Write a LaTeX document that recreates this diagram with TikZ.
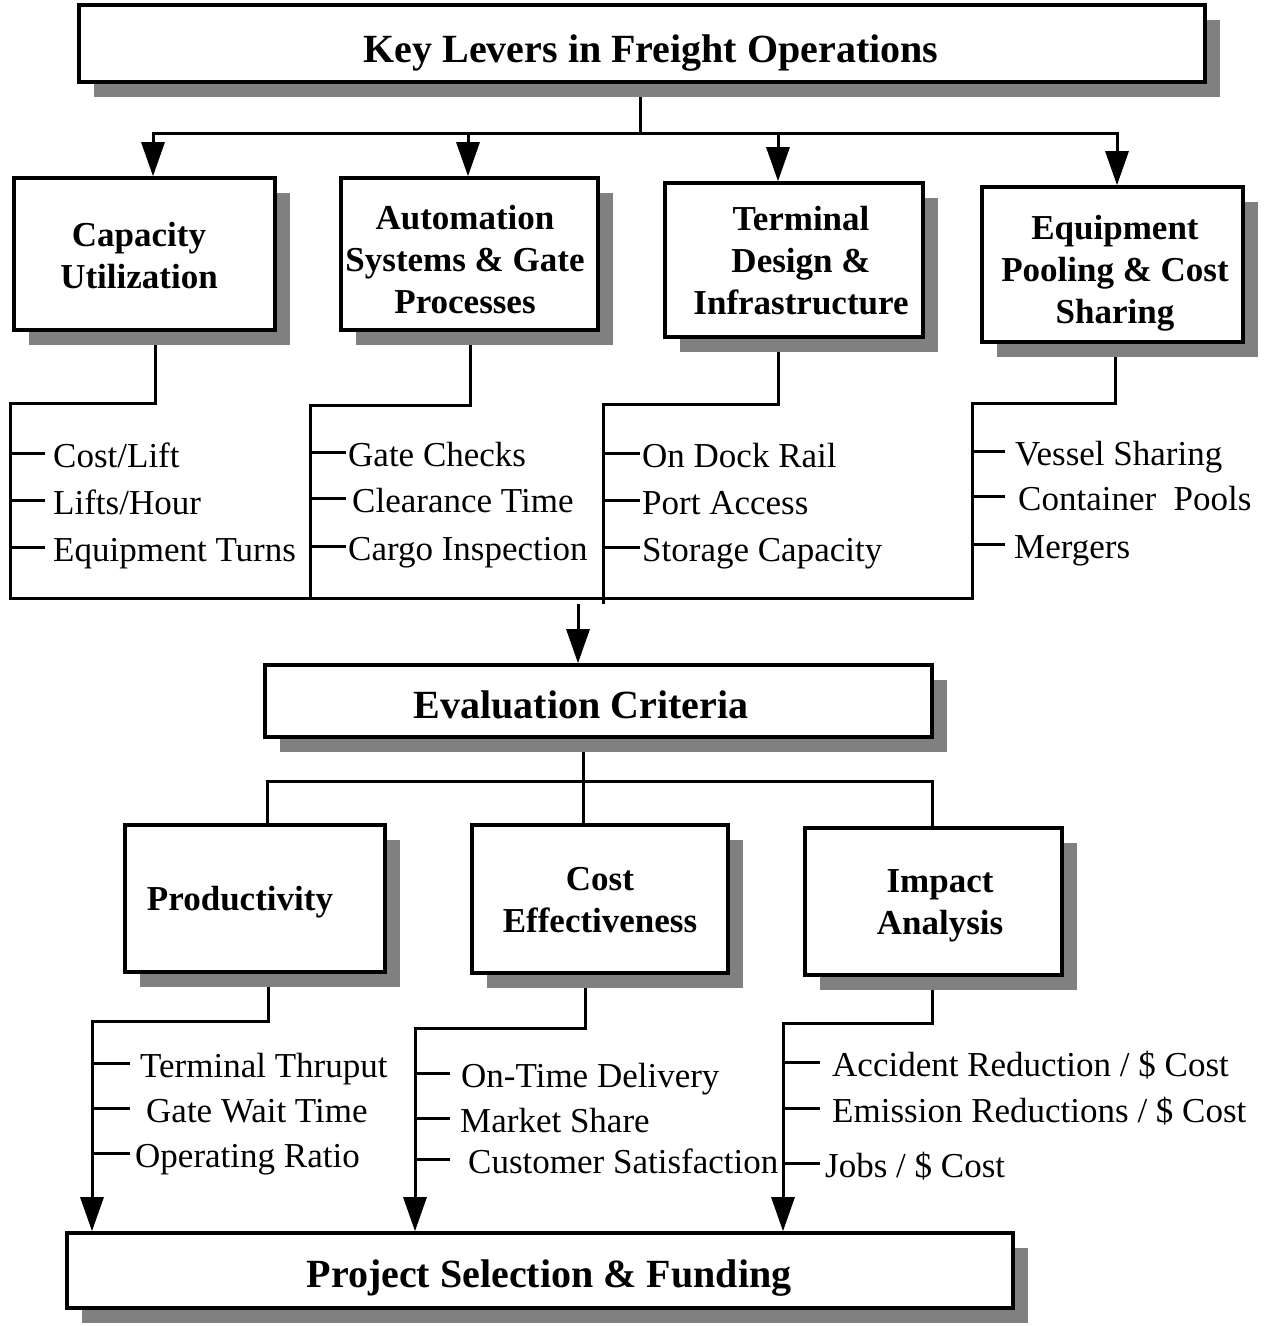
\documentclass[tikz,border=0pt]{standalone}
\usepackage{fontspec}
\setmainfont{Liberation Serif}
\usetikzlibrary{arrows.meta,shadows,backgrounds}
\begin{document}
\begin{tikzpicture}[x=1pt,y=-1pt,
  box/.style={draw, line width=3.6pt, fill=white, inner sep=0pt,
     general shadow={fill=black!50, shadow xshift=15pt, shadow yshift=-15pt}},
  head/.style={align=center, font=\fontsize{35}{42}\selectfont\bfseries, inner sep=0pt},
  titletext/.style={anchor=base, inner sep=0pt, font=\fontsize{40}{48}\selectfont\bfseries},
  item/.style={anchor=base west, inner sep=0pt, text height=28pt, text depth=0pt,
     font=\fontsize{35}{42}\selectfont},
  conn/.style={line width=3pt},
  arr/.style={conn, -{Triangle[length=34pt,width=23pt]}},
  tickline/.style={line width=3pt}]
\useasboundingbox (0,0) rectangle (1265,1326);

% ---------- boxes ----------
\node[box, minimum width=1126pt, minimum height=77pt] (top) at (642,43.5) {};
\node[titletext] (topT) at (651,62) {Key Levers in Freight Operations};

\node[box, minimum width=261pt, minimum height=152pt] (cap) at (144.5,254) {};
\node[head] (capT) at (139,255.5) {Capacity\\Utilization};
\node[box, minimum width=257pt, minimum height=152pt] (auto) at (469.5,254) {};
\node[head] (autoT) at (465,259.5) {Automation\\Systems \& Gate\\Processes};
\node[box, minimum width=258pt, minimum height=154pt] (term) at (794,260) {};
\node[head] (termT) at (801,260.5) {Terminal\\Design \&\\Infrastructure};
\node[box, minimum width=261pt, minimum height=155pt] (equip) at (1112.5,264.5) {};
\node[head] (equipT) at (1115,273) {Equipment\\Pooling \& Cost\\Sharing};

\node[box, minimum width=667pt, minimum height=72pt] (eval) at (598.5,701) {};
\node[titletext] (evalT) at (581,718) {Evaluation Criteria};

\node[box, minimum width=260pt, minimum height=147pt] (prod) at (255,898.5) {};
\node[head, anchor=base] (prodT) at (240,910) {Productivity};
\node[box, minimum width=256pt, minimum height=148pt] (cost) at (600,899) {};
\node[head] (costT) at (600,900) {Cost\\Effectiveness};
\node[box, minimum width=257pt, minimum height=147pt] (imp) at (933.5,901.5) {};
\node[head] (impT) at (940,905.5) {Impact\\Analysis};

\node[box, minimum width=946pt, minimum height=75pt] (proj) at (540,1270.5) {};
\node[titletext] (projT) at (549,1287) {Project Selection \& Funding};

% ---------- item texts ----------
\node[item] (i11) at (53,467) {Cost/Lift};
\node[item] (i12) at (53,514) {Lifts/Hour};
\node[item] (i13) at (53,561) {Equipment Turns};
\node[item] (i21) at (348,466) {Gate Checks};
\node[item] (i22) at (352,512) {Clearance Time};
\node[item] (i23) at (348,560) {Cargo Inspection};
\node[item] (i31) at (642,467) {On Dock Rail};
\node[item] (i32) at (642,514) {Port Access};
\node[item] (i33) at (642,561) {Storage Capacity};
\node[item] (i41) at (1015,465) {Vessel Sharing};
\node[item] (i42) at (1018,510) {Container\ \ Pools};
\node[item] (i43) at (1014,558) {Mergers};

\node[item] (j11) at (140,1077) {Terminal Thruput};
\node[item] (j12) at (146,1122) {Gate\ Wait\ Time};
\node[item] (j13) at (135,1167) {Operating Ratio};
\node[item] (j21) at (461,1087) {On-Time Delivery};
\node[item] (j22) at (460,1132) {Market Share};
\node[item] (j23) at (468,1173) {Customer\ Satisfaction};
\node[item] (j31) at (832,1076) {Accident Reduction / \$ Cost};
\node[item] (j32) at (832,1122) {Emission Reductions / \$ Cost};
\node[item] (j33) at (825,1177) {Jobs / \$ Cost};

% ---------- connectors ----------
\begin{pgfonlayer}{background}
  % top distribution
  \coordinate (t0) at (640,133);
  \coordinate (b1) at (153,133);
  \coordinate (b2) at (468,133);
  \coordinate (b3) at (778,133);
  \coordinate (b4) at (1117,133);
  \draw[conn] (top.south -| t0) -- (t0);
  \draw[conn] ([xshift=-1.5pt]b1) -- ([xshift=1.5pt]b4);
  \draw[arr] (b1) -- (b1 |- cap.north);
  \draw[arr] (b2) -- (b2 |- auto.north);
  \draw[arr] (b3) -- (b3 |- term.north);
  \draw[arr] (b4) -- (b4 |- equip.north);

  % row 1 brackets
  \coordinate (bus) at (0,598);
  \coordinate (a1) at (155,403);  \coordinate (a2) at (10,403);
  \coordinate (a3) at (470,405);  \coordinate (a4) at (310,405);
  \coordinate (a5) at (778,404);  \coordinate (a6) at (603,404);
  \coordinate (a7) at (1115,403); \coordinate (a8) at (972,403);
  \draw[conn] (a1 |- cap.south) -- (a1) -- (a2) -- (a2 |- bus);
  \draw[conn] (a3 |- auto.south) -- (a3) -- (a4) -- ([yshift=-2pt]a4 |- bus);
  \draw[conn] (a5 |- term.south) -- (a5) -- (a6) -- ([yshift=-6pt]a6 |- bus);
  \draw[conn] (a7 |- equip.south) -- (a7) -- (a8) -- (a8 |- bus);
  \draw[conn] ([xshift=-1.5pt]a2 |- bus) -- ([xshift=1.5pt]a8 |- bus);

  \foreach \n in {i11,i12,i13} \draw[tickline] (\n.west -| a2) -- ++(35,0);
  \foreach \n in {i21,i22,i23} \draw[tickline] (\n.west -| a4) -- ++(36,0);
  \foreach \n in {i31,i32,i33} \draw[tickline] (\n.west -| a6) -- ++(37,0);
  \foreach \n in {i41,i42,i43} \draw[tickline] (\n.west -| a8) -- ++(33,0);

  % to evaluation
  \coordinate (e0) at (578,604);
  \draw[arr] (e0) -- (e0 |- eval.north);

  % evaluation distribution
  \coordinate (r0) at (583,781);
  \coordinate (rl) at (267,781);
  \coordinate (rr) at (932,781);
  \draw[conn] (eval.south -| r0) -- (r0);
  \draw[conn] ([xshift=-1.5pt]rl) -- ([xshift=1.5pt]rr);
  \draw[conn] (rl) -- (rl |- prod.north);
  \draw[conn] (r0) -- (r0 |- cost.north);
  \draw[conn] (rr) -- (rr |- imp.north);

  % row 2 brackets
  \coordinate (p1) at (268,1021); \coordinate (p2) at (92,1021);
  \coordinate (q1) at (585,1028); \coordinate (q2) at (415,1028);
  \coordinate (s1) at (932,1023); \coordinate (s2) at (783,1023);
  \draw[arr] (p1 |- prod.south) -- (p1) -- (p2) -- (p2 |- proj.north);
  \draw[arr] (q1 |- cost.south) -- (q1) -- (q2) -- (q2 |- proj.north);
  \draw[arr] (s1 |- imp.south) -- (s1) -- (s2) -- (s2 |- proj.north);

  \foreach \n in {j11,j12,j13} \draw[tickline] (\n.west -| p2) -- ++(38,0);
  \foreach \n in {j21,j22,j23} \draw[tickline] (\n.west -| q2) -- ++(35,0);
  \foreach \n in {j31,j32,j33} \draw[tickline] (\n.west -| s2) -- ++(37,0);
\end{pgfonlayer}
\end{tikzpicture}
\end{document}
